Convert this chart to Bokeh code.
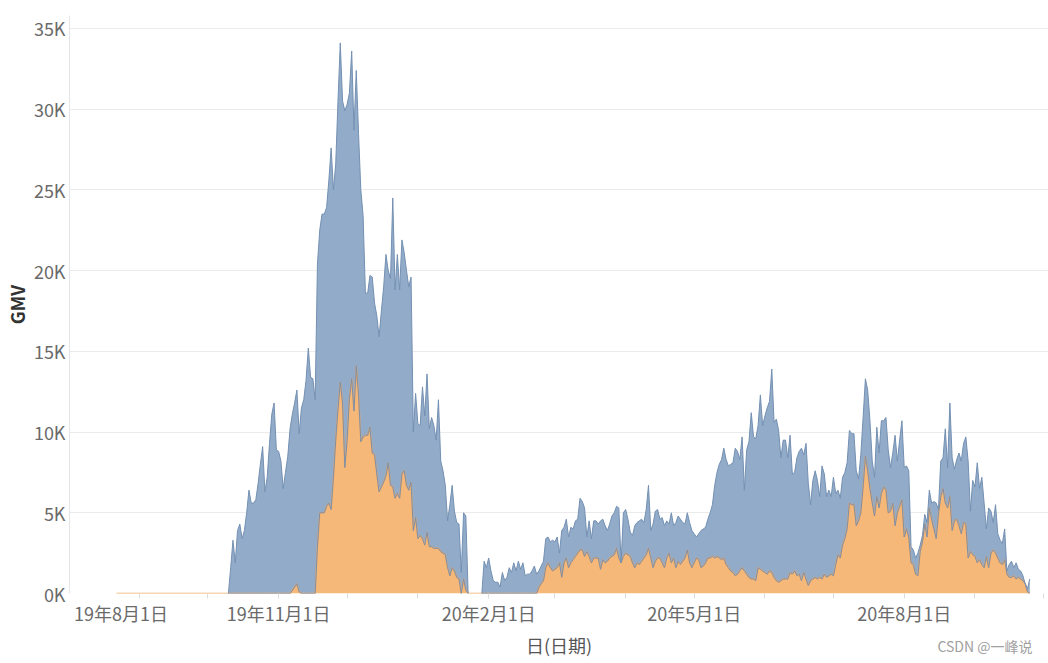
import numpy as np
import pandas as pd
from bokeh.plotting import figure
from bokeh.models import Range1d, FixedTicker, Title, PrintfTickFormatter, ColumnDataSource
from bokeh.embed import file_html
from bokeh.resources import INLINE

# ---------------- data (GMV, thousands) ----------------
origin_date = "2019-08-01"          # axis origin (day 0)
first_day = "2019-08-22"            # first daily value

# top of the blue area (total GMV), one value per day from first_day
total_k = [
    0, 0, 0, 0, 0, 0, 0, 0, 0, 0,                         # d21
    0, 0, 0, 0, 0, 0, 0, 0, 0, 0,                         # d31
    0, 0, 0, 0, 0, 0, 0, 0, 0, 0,                         # d41
    0, 0, 0, 0, 0, 0, 0, 0, 0, 0,                         # d51
    0, 0, 0, 0, 0, 0, 0, 0, 0, 0,                         # d61
    1.6, 3.3, 1.9, 3.9, 4.3, 3.4, 3.9, 5.0, 6.4, 5.6,     # d71
    5.6, 5.8, 6.8, 8.0, 9.1, 6.3, 7.2, 9.3, 11.1, 11.8,   # d81
    8.9, 8.8, 8.2, 6.5, 7.5, 8.5, 10.2, 11.1, 11.8, 12.6, # d91
    9.9, 11.5, 12.0, 13.2, 15.2, 13.4, 13.3, 12.0, 20.4, 22.5,   # d101
    23.5, 23.5, 23.9, 25.6, 27.6, 25.0, 26.6, 30.5, 34.1, 30.5,  # d111
    29.9, 30.3, 31.0, 33.6, 28.7, 32.4, 28.5, 25.0, 23.4, 18.6,  # d121
    18.6, 19.7, 19.6, 18.0, 17.2, 15.9, 17.5, 19.0, 21.0, 20.0,  # d131
    19.5, 24.5, 18.8, 21.0, 18.8, 21.9, 21.1, 20.0, 19.0, 19.6,  # d141
    10.0, 12.4, 10.5, 10.4, 12.8, 11.0, 13.6, 10.2, 10.9, 10.4,  # d151
    9.5, 12.0, 8.2, 7.6, 6.7, 4.5, 5.5, 6.7, 5.1, 4.4,           # d161
    4.3, 1.3, 5.0, 4.8, 0, 0, 0, 0, 0, 0,                        # d171
    0, 2.0, 1.6, 2.2, 1.4, 0.8, 0.7, 0.7, 0.4, 1.3,              # d181
    0.8, 1.0, 1.6, 1.3, 1.9, 1.4, 2.0, 1.5, 1.9, 1.1,            # d191
    1.2, 1.2, 1.4, 1.7, 1.2, 1.4, 1.7, 2.0, 3.4, 3.5,            # d201
    3.2, 3.3, 3.2, 3.5, 2.5, 3.9, 4.1, 4.6, 3.5, 4.1,            # d211
    4.0, 4.5, 4.6, 5.9, 5.7, 5.3, 3.5, 4.5, 3.4, 4.5,            # d221
    4.5, 4.3, 4.5, 4.6, 4.2, 3.9, 4.3, 4.8, 5.0, 5.4,            # d231
    5.3, 1.9, 5.0, 5.2, 4.6, 3.8, 3.6, 4.2, 4.4, 4.5,            # d241
    4.6, 4.4, 5.2, 6.7, 3.9, 4.3, 5.1, 5.2, 4.6, 4.7,            # d251
    4.2, 4.5, 4.3, 5.0, 4.2, 4.4, 4.8, 4.6, 4.4, 4.3,            # d261
    5.0, 4.4, 3.9, 3.7, 3.5, 3.7, 3.9, 4.0, 4.1, 4.6,            # d271
    5.0, 5.5, 6.7, 7.5, 8.0, 8.3, 9.0, 8.3, 7.9, 8.0,            # d281
    8.1, 9.0, 8.8, 8.3, 9.7, 6.4, 8.9, 9.4, 11.2, 9.7,           # d291
    9.6, 10.4, 12.3, 10.4, 11.0, 11.5, 11.9, 13.9, 10.6, 10.8,   # d301
    10.1, 8.4, 9.5, 9.5, 8.4, 9.8, 7.4, 7.5, 8.4, 8.8,           # d311
    9.0, 8.6, 9.3, 6.8, 5.5, 7.0, 7.6, 7.0, 6.0, 7.9,            # d321
    7.4, 6.0, 6.4, 6.0, 7.2, 6.2, 6.4, 5.9, 7.2, 7.5,            # d331
    8.1, 10.1, 9.9, 9.9, 7.6, 7.1, 8.6, 10.9, 13.3, 12.6,        # d341
    10.7, 8.2, 7.2, 10.3, 8.7, 10.7, 10.7, 10.9, 8.9, 7.8,       # d351
    8.7, 9.8, 8.2, 9.5, 10.7, 7.8, 7.9, 7.6, 2.9, 2.7,           # d361
    2.2, 2.5, 3.0, 3.6, 4.9, 4.4, 6.4, 5.6, 5.7, 5.6,            # d371
    5.2, 8.2, 8.4, 10.2, 7.8, 11.8, 8.4, 7.7, 8.3, 8.7,          # d381
    8.2, 9.3, 9.7, 8.2, 5.1, 7.0, 6.6, 8.1, 6.5, 7.2,            # d391
    5.6, 4.0, 5.3, 5.1, 4.4, 5.5, 3.7, 3.3, 3.1, 4.0,            # d401
    1.4, 1.8, 2.0, 1.6, 1.9, 1.5, 1.4, 1.1, 0.6, 0.3,            # d411
    0.9,                                                         # d421
]

# top of the orange area, one value per day from first_day
orange_k = [
    0, 0, 0, 0, 0, 0, 0, 0, 0, 0,                         # d21
    0, 0, 0, 0, 0, 0, 0, 0, 0, 0,                         # d31
    0, 0, 0, 0, 0, 0, 0, 0, 0, 0,                         # d41
    0, 0, 0, 0, 0, 0, 0, 0, 0, 0,                         # d51
    0, 0, 0, 0, 0, 0, 0, 0, 0, 0,                         # d61
    0, 0, 0, 0, 0, 0, 0, 0, 0, 0,                         # d71
    0, 0, 0, 0, 0, 0, 0, 0, 0, 0,                         # d81
    0, 0, 0, 0, 0, 0, 0, 0.2, 0.4, 0.6,                   # d91
    0.1, 0, 0, 0, 0, 0, 0, 0, 2.9, 5.0,                   # d101
    5.0, 5.0, 5.4, 5.6, 5.2, 7.2, 9.5, 11.4, 13.1, 11.8,  # d111
    7.8, 9.5, 12.1, 13.3, 11.3, 14.1, 12.3, 9.4, 9.7, 9.8,  # d121
    9.8, 10.3, 8.7, 8.6, 7.4, 6.3, 6.6, 6.9, 7.3, 8.1,    # d131
    6.7, 6.6, 5.9, 6.2, 5.9, 7.4, 7.6, 6.7, 6.4, 6.9,     # d141
    3.9, 4.7, 3.4, 3.6, 3.4, 3.0, 3.8, 2.9, 2.9, 2.8,     # d151
    2.8, 2.8, 2.6, 2.5, 2.4, 1.6, 1.1, 1.6, 1.4, 1.0,     # d161
    0.9, 0.0, 0.9, 0.2, 0, 0, 0, 0, 0, 0,                 # d171
    0, 0, 0, 0, 0, 0, 0, 0, 0, 0,                         # d181
    0, 0, 0, 0, 0, 0, 0, 0, 0, 0,                         # d191
    0, 0, 0, 0, 0, 0.4, 0.6, 0.8, 1.6, 1.9,               # d201
    1.6, 1.4, 1.5, 1.6, 1.9, 1.0, 1.9, 2.2, 1.6, 1.9,     # d211
    2.1, 2.3, 2.5, 2.7, 2.7, 2.3, 2.6, 2.3, 1.9, 2.2,     # d221
    2.2, 2.2, 1.5, 2.1, 1.9, 2.0, 2.2, 2.3, 2.4, 2.8,     # d231
    2.2, 1.9, 2.3, 2.5, 2.4, 2.3, 1.9, 1.6, 1.9, 1.8,     # d241
    2.0, 2.2, 2.4, 2.8, 2.2, 1.6, 2.0, 2.2, 2.2, 1.9,     # d251
    1.6, 2.2, 2.5, 1.9, 2.2, 1.6, 2.0, 1.8, 2.0, 2.2,     # d261
    2.7, 1.9, 1.6, 1.9, 2.2, 2.1, 1.6, 1.7, 1.9, 2.2,     # d271
    2.2, 2.3, 2.2, 2.3, 2.2, 2.1, 2.2, 1.8, 1.6, 1.4,     # d281
    1.3, 1.1, 1.2, 1.4, 1.6, 1.4, 1.2, 1.0, 0.9, 0.9,     # d291
    0.8, 1.6, 1.5, 1.4, 1.3, 1.2, 1.4, 1.3, 1.0, 0.8,     # d301
    0.7, 0.8, 0.9, 0.9, 0.9, 1.3, 1.2, 1.4, 1.1, 1.2,     # d311
    0.8, 1.3, 0.9, 0.5, 0.8, 0.9, 1.0, 0.9, 1.0, 0.9,     # d321
    1.2, 1.0, 1.1, 1.2, 1.1, 1.8, 2.4, 2.2, 3.0, 3.4,     # d331
    4.0, 5.6, 5.5, 5.5, 4.2, 4.5, 5.0, 6.6, 8.5, 7.6,     # d341
    6.5, 5.6, 4.8, 6.0, 5.3, 6.2, 6.6, 6.4, 5.0, 5.1,     # d351
    5.6, 4.2, 5.0, 5.4, 5.8, 3.5, 4.0, 3.5, 1.9, 1.8,     # d361
    1.2, 1.1, 2.6, 3.2, 4.3, 3.5, 5.3, 4.6, 4.0, 3.4,     # d371
    4.9, 6.0, 6.5, 5.6, 5.3, 6.0, 3.9, 4.5, 4.6, 4.2,     # d381
    3.7, 4.4, 4.3, 2.2, 2.6, 2.4, 2.3, 1.9, 2.1, 1.8,     # d391
    1.6, 2.3, 1.6, 2.5, 2.7, 2.5, 2.2, 1.9, 1.8, 2.1,     # d401
    1.2, 1.0, 1.0, 1.1, 0.9, 1.0, 0.9, 0.8, 0.6, 0.1,     # d411
    0.0,                                                  # d421
]

tick_dates = ["2019-08-01", "2019-11-01", "2020-02-01", "2020-05-01", "2020-08-01"]
tick_labels = ["19年8月1日", "19年11月1日", "20年2月1日", "20年5月1日", "20年8月1日"]
y_ticks_k = [0, 5, 10, 15, 20, 25, 30, 35]

# ---------------- derived ----------------
origin = pd.Timestamp(origin_date)
n = min(len(total_k), len(orange_k))
days = (pd.date_range(first_day, periods=n) - origin).days.to_numpy().astype(float)
top = np.array(total_k[:n], dtype=float)
mid = np.array(orange_k[:n], dtype=float)

# where the blue area exists (its outline is drawn there)
has_blue = (top > 0) | (np.roll(top, 1) > 0) | (np.roll(top, -1) > 0)
top_line = np.where(has_blue, top, np.nan)
mid_line = np.where(has_blue, mid, np.nan)

src = ColumnDataSource(dict(x=days, top=top, mid=mid, top_line=top_line, mid_line=mid_line))

tick_days = [int((pd.Timestamp(d) - origin).days) for d in tick_dates]
label_pos = list(tick_days)
label_pos[0] = tick_days[0] + 23      # first label nudged inside the pane, like Tableau
month_days = [int((d - origin).days) for d in pd.date_range(origin_date, "2020-10-01", freq="MS")]

FONT = "Noto Sans CJK SC"

p = figure(width=1048, height=663, output_backend="svg", toolbar_location=None,
           x_range=Range1d(0.4, 429.2), y_range=Range1d(0, 35.8),
           min_border_left=69, min_border_right=0, min_border_top=15, min_border_bottom=70)
p.outline_line_color = None
p.background_fill_color = "white"
p.border_fill_color = "white"

# areas
p.varea(x="x", y1=0, y2="mid", source=src, fill_color="#f5b878", fill_alpha=1.0)
p.varea(x="x", y1="mid", y2="top", source=src, fill_color="#91abc9", fill_alpha=1.0)
p.line(x="x", y="mid", source=src, line_color="#f3ac66", line_width=1.5)
p.line(x="x", y="mid_line", source=src, line_color="#7d8fa8", line_width=1)
p.line(x="x", y="top_line", source=src, line_color="#7490b2", line_width=1)

# grid
p.xgrid.grid_line_color = None
p.ygrid.grid_line_color = "#ebebeb"
p.ygrid.ticker = FixedTicker(ticks=y_ticks_k)
p.ygrid.level = "underlay"

# y axis
ya = p.yaxis[0]
ya.ticker = FixedTicker(ticks=y_ticks_k)
ya.formatter = PrintfTickFormatter(format="%dK")
ya.axis_label = "GMV"
ya.axis_label_text_font = FONT
ya.axis_label_text_font_style = "bold"
ya.axis_label_text_font_size = "18px"
ya.axis_label_text_color = "#333333"
ya.axis_label_standoff = 1
ya.major_label_text_font = FONT
ya.major_label_text_font_size = "18px"
ya.major_label_text_color = "#6a6a6a"
ya.major_label_standoff = 4
ya.axis_line_color = "#e4e4e4"
ya.major_tick_line_color = None
ya.major_tick_out = 0
ya.major_tick_in = 0
ya.minor_tick_line_color = None

# x axis
xa = p.xaxis[0]
xa.ticker = FixedTicker(ticks=label_pos, minor_ticks=month_days)
xa.major_label_overrides = {pos: lab for pos, lab in zip(label_pos, tick_labels)}
xa.axis_label = "日(日期)"
xa.axis_label_text_font = FONT
xa.axis_label_text_font_style = "normal"
xa.axis_label_text_font_size = "18px"
xa.axis_label_text_color = "#555555"
xa.axis_label_standoff = 3
xa.major_label_text_font = FONT
xa.major_label_text_font_size = "18px"
xa.major_label_text_color = "#6a6a6a"
xa.major_label_standoff = 1
xa.axis_line_color = None
xa.major_tick_line_color = None
xa.major_tick_out = 5
xa.major_tick_in = 0
xa.minor_tick_line_color = "#dcdcdc"
xa.minor_tick_out = 5
xa.minor_tick_in = 0

# watermark, pulled up onto the same row as the x-axis title
p.add_layout(Title(text="CSDN @一峰说", align="right", vertical_align="top",
                   offset=16, standoff=-50,
                   text_font=FONT, text_font_size="14px", text_font_style="normal",
                   text_color="#a0a0a0"), "below")

open("out.html", "w").write(file_html(p, INLINE))
